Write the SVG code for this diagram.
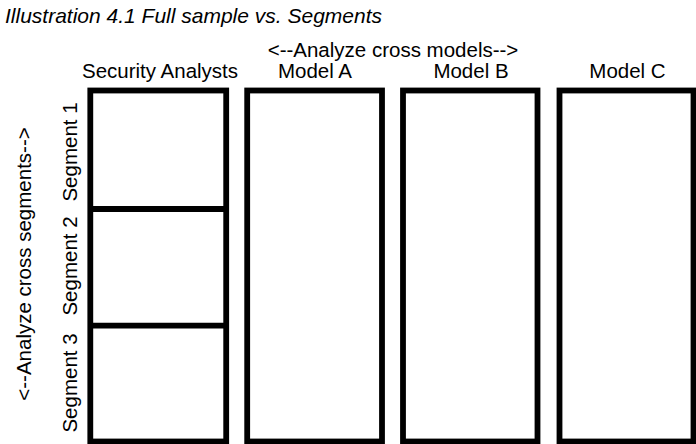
<svg xmlns="http://www.w3.org/2000/svg" width="696" height="444" viewBox="0 0 696 444">
<style>
text{font-family:"Liberation Sans",Arial,sans-serif;font-size:20.5px;fill:#000}
.title{font-style:italic;font-size:21px}
.box{fill:#fff;stroke:#000;stroke-width:5.8}
.div{stroke:#000;stroke-width:5.8}
</style>
<rect width="696" height="444" fill="#fff"/>
<text class="title" x="5" y="23">Illustration 4.1 Full sample vs. Segments</text>
<text x="393" y="57" text-anchor="middle">&lt;--Analyze cross models--&gt;</text>
<g id="analysts">
<rect class="box" x="90.3" y="90.5" width="135.9" height="351"/>
<text x="160" y="78" text-anchor="middle">Security Analysts</text>
</g>
<g id="modelA">
<rect class="box" x="247.2" y="90.5" width="134.8" height="351"/>
<text x="315" y="78" text-anchor="middle">Model A</text>
</g>
<g id="modelB">
<rect class="box" x="403" y="90.5" width="134.5" height="351"/>
<text x="471" y="78" text-anchor="middle">Model B</text>
</g>
<g id="modelC">
<rect class="box" x="559.5" y="90.5" width="134" height="351"/>
<text x="627.5" y="78" text-anchor="middle">Model C</text>
</g>
<g id="connectors">
<line class="div" x1="90.3" y1="209" x2="226.2" y2="209"/>
<line class="div" x1="90.3" y1="325.7" x2="226.2" y2="325.7"/>
</g>
<g id="segments">
<text transform="translate(77,152) rotate(-90)" text-anchor="middle">Segment 1</text>
<text transform="translate(77,266) rotate(-90)" text-anchor="middle">Segment 2</text>
<text transform="translate(77,383) rotate(-90)" text-anchor="middle">Segment 3</text>
<text transform="translate(31,264) rotate(-90)" text-anchor="middle">&lt;--Analyze cross segments--&gt;</text>
</g>
</svg>
